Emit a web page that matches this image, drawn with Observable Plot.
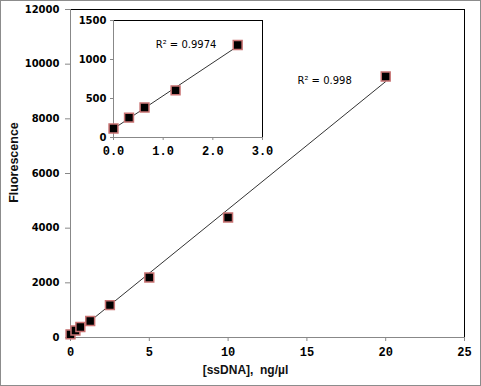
<!DOCTYPE html>
<html>
<head>
<meta charset="utf-8">
<script src="https://cdn.jsdelivr.net/npm/d3@7"></script>
<script src="https://cdn.jsdelivr.net/npm/@observablehq/plot@0.6"></script>
<style>
  body { margin: 0; background: #fff; }
  #wrap { position: relative; width: 481px; height: 386px; overflow: hidden; }
  #wrap svg { position: absolute; }
  #border { position: absolute; left: 0; top: 0; width: 479px; height: 384px; border: 1px solid #8c8c8c; pointer-events: none; }
</style>
</head>
<body>
<div id="wrap"><div id="border"></div></div>
<script>
// Main series: concentration (ng/µl) vs fluorescence
const conc = [0, 0.3125, 0.625, 1.25, 2.5, 5, 10, 20];
const fluor = [116, 255, 384, 604, 1186, 2195, 4390, 9550];
// Inset series (low range)
const concInset = [0, 0.3125, 0.625, 1.25, 2.5];
const fluorInset = [116, 255, 384, 604, 1186];

const xTicksMain = [0, 5, 10, 15, 20, 25];
const yTicksMain = [0, 2000, 4000, 6000, 8000, 10000, 12000];
const xTicksInset = [0, 1, 2, 3];
const yTicksInset = [0, 500, 1000, 1500];

const r2Main = ["R² = 0.998"];
const r2MainAt = {x: 14.4, y: 9400};
const r2Inset = ["R² = 0.9974"];
const r2InsetAt = {x: 0.85, y: 1190};

const xLabel = "[ssDNA],  ng/µl";
const yLabel = "Fluorescence";

const mainData = conc.map((c, i) => ({x: c, y: fluor[i]}));
const insetData = concInset.map((c, i) => ({x: c, y: fluorInset[i]}));

const tickFont = {fontFamily: "Liberation Mono", fontWeight: "bold", fontSize: 12};
const yTickFont = {fontFamily: "DejaVu Sans", fontWeight: "bold", fontSize: 10};
const pointStyle = {symbol: "square", r: 5, fill: "black", stroke: "#c87272", strokeWidth: 1.5};

const main = Plot.plot({
  width: 481, height: 386,
  marginLeft: 70, marginRight: 17, marginTop: 9, marginBottom: 49,
  style: {background: "transparent"},
  x: {domain: [0, 25]},
  y: {domain: [0, 12000]},
  marks: [
    Plot.frame({stroke: "black"}),
    Plot.axisX(xTicksMain, {tickSize: 4, stroke: "#888", tickPadding: 6, fill: "black", label: null, tickFormat: d3.format("d"), ...tickFont}),
    Plot.axisY(yTicksMain, {tickSize: 5, stroke: "#888", tickPadding: 6, fill: "black", label: null, tickFormat: d3.format("d"), ...yTickFont}),
    Plot.ruleX([0], {stroke: "#888"}),
    Plot.ruleY([0], {stroke: "#888"}),
    Plot.linearRegressionY(mainData, {x: "x", y: "y", ci: 0, stroke: "#333", strokeWidth: 1}),
    Plot.dot(mainData, {x: "x", y: "y", ...pointStyle}),
    Plot.text(r2Main, {x: () => r2MainAt.x, y: () => r2MainAt.y, text: d => d, textAnchor: "start", fontFamily: "DejaVu Sans", fontSize: 10, fill: "black"}),
    Plot.text([xLabel], {frameAnchor: "bottom", text: d => d, textAnchor: "middle", dx: -22, dy: 36, fontFamily: "Liberation Sans", fontWeight: "bold", fontSize: 12, fill: "#111"}),
    Plot.text([yLabel], {frameAnchor: "left", text: d => d, textAnchor: "middle", rotate: -90, dx: -57, dy: -11, fontFamily: "Liberation Sans", fontWeight: "bold", fontSize: 12.5, fill: "#111"})
  ]
});
main.style.left = "0px";
main.style.top = "0px";

const inset = Plot.plot({
  width: 215, height: 152,
  marginLeft: 38, marginRight: 28, marginTop: 10, marginBottom: 25,
  style: {background: "transparent"},
  x: {domain: [0, 3]},
  y: {domain: [0, 1500]},
  marks: [
    Plot.frame({fill: "white", stroke: "black"}),
    Plot.axisX(xTicksInset, {tickSize: 3, stroke: "#888", tickPadding: 6, fill: "black", label: null, tickFormat: d3.format(".1f"), ...tickFont}),
    Plot.axisY(yTicksInset, {tickSize: 3, stroke: "#888", tickPadding: 4, fill: "black", label: null, tickFormat: d3.format("d"), ...yTickFont}),
    Plot.ruleX([0], {stroke: "#888"}),
    Plot.ruleY([0], {stroke: "#888"}),
    Plot.linearRegressionY(insetData, {x: "x", y: "y", ci: 0, stroke: "#333", strokeWidth: 1}),
    Plot.dot(insetData, {x: "x", y: "y", ...pointStyle}),
    Plot.text(r2Inset, {x: () => r2InsetAt.x, y: () => r2InsetAt.y, text: d => d, textAnchor: "start", fontFamily: "DejaVu Sans", fontSize: 10, fill: "black"})
  ]
});
inset.style.left = "75px";
inset.style.top = "10px";

const wrap = document.getElementById("wrap");
wrap.insertBefore(main, wrap.firstChild);
wrap.insertBefore(inset, document.getElementById("border"));
</script>
</body>
</html>
